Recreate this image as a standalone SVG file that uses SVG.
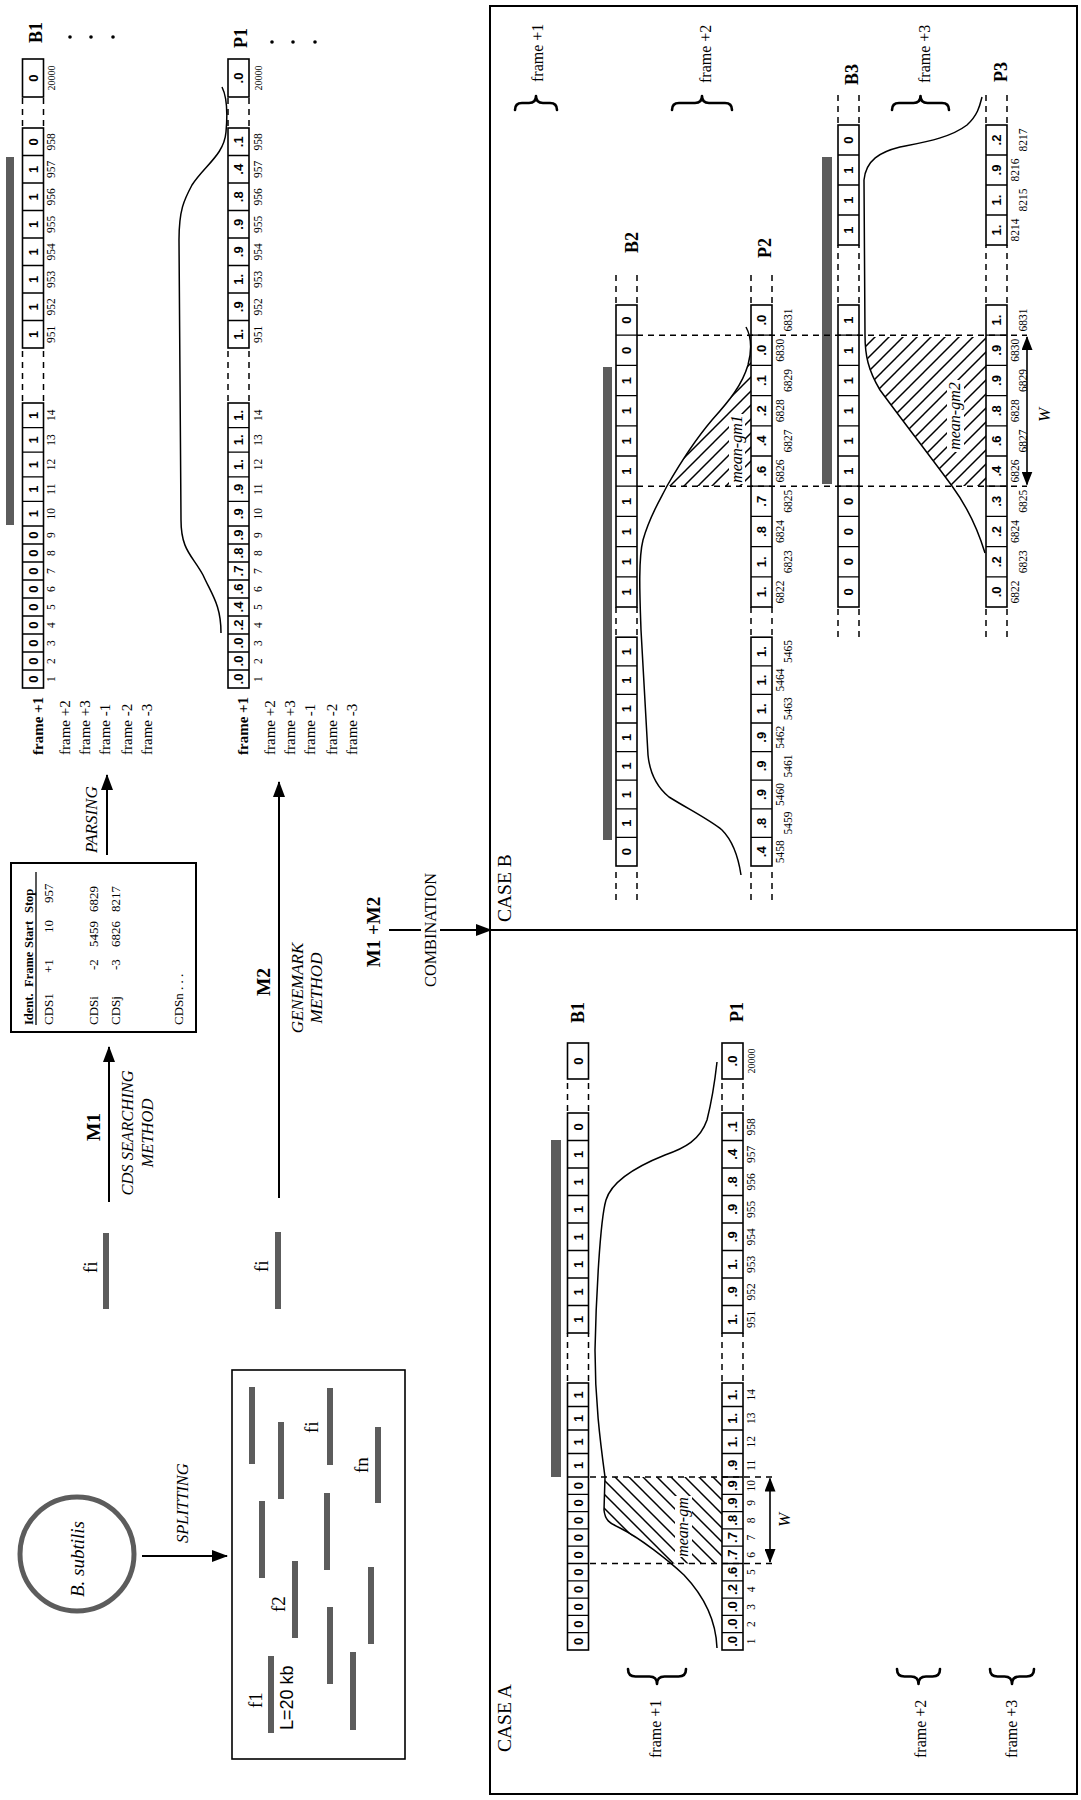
<svg xmlns="http://www.w3.org/2000/svg" width="1081" height="1800" viewBox="0 0 1081 1800">
<style>
text{font-family:"Liberation Serif","Times New Roman",serif;fill:#000}
.v{font-family:"Liberation Sans",Arial,sans-serif;font-weight:bold;font-size:13px;text-anchor:middle}
.sans{font-family:"Liberation Sans",Arial,sans-serif}
.n{font-size:11.5px;text-anchor:middle}
.m{text-anchor:middle}
.c{fill:none;stroke:#000;stroke-width:1.6}
.s{fill:none;stroke:#000;stroke-width:1.3}
.d{fill:none;stroke:#000;stroke-width:1.5;stroke-dasharray:6 5}
.bar{fill:#5c5c5c}
.cur{fill:none;stroke:#000;stroke-width:1.5;stroke-linejoin:round}
.lb{font-weight:bold;font-size:18px}
.it{font-style:italic}
.fr{font-size:16px}
.ar{fill:none;stroke:#000;stroke-width:2}
.ws{fill:none;stroke:#000;stroke-width:1.6}
.br{fill:none;stroke:#000;stroke-width:2.6;stroke-linecap:round;stroke-linejoin:round}
.wb{fill:#fff}
.tb{font-size:13px}
.th{font-size:12.5px;font-weight:bold}
</style>
<defs>
<marker id="ah" viewBox="0 0 16 12" refX="15" refY="6" markerWidth="16" markerHeight="12" markerUnits="userSpaceOnUse" orient="auto-start-reverse"><path d="M0,0L16,6L0,12z"/></marker>
<marker id="ahs" viewBox="0 0 14 11" refX="13" refY="5.5" markerWidth="14" markerHeight="11" markerUnits="userSpaceOnUse" orient="auto-start-reverse"><path d="M0,0L14,5.5L0,11z"/></marker>
<pattern id="hA" width="14" height="14" patternUnits="userSpaceOnUse"><path d="M-1,15L15,-1M-4,4L4,-4M10,18L18,10" stroke="#000" stroke-width="1.5"/></pattern>
<pattern id="hB" width="14" height="14" patternUnits="userSpaceOnUse"><path d="M-1,-1L15,15M10,-4L18,4M-4,10L4,18" stroke="#000" stroke-width="1.5"/></pattern>
<g id="rowTop">
<rect class="c" x="1112" y="0" width="285" height="21"/><rect class="c" x="1452" y="0" width="220" height="21"/><rect class="c" x="1703" y="0" width="38" height="21"/>
<path class="s" d="M1130,0v21M1148,0v21M1166,0v21M1184,0v21M1202,0v21M1220,0v21M1238,0v21M1256,0v21M1274,0v21M1298.6,0v21M1323.2,0v21M1347.8,0v21M1372.4,0v21M1479.5,0v21M1507,0v21M1534.5,0v21M1562,0v21M1589.5,0v21M1617,0v21M1644.5,0v21"/>
<path class="d" d="M1399,0H1452M1399,21H1452M1674,0H1703M1674,21H1703"/>
</g>
<g id="rowA">
<rect class="c" x="150" y="0" width="267" height="21"/><rect class="c" x="467" y="0" width="220" height="21"/><rect class="c" x="721" y="0" width="36" height="21"/>
<path class="s" d="M167.3,0v21M184.6,0v21M201.9,0v21M219.2,0v21M236.5,0v21M253.8,0v21M271.1,0v21M288.4,0v21M305.7,0v21M323,0v21M346.5,0v21M370,0v21M393.5,0v21M494.5,0v21M522,0v21M549.5,0v21M577,0v21M604.5,0v21M632,0v21M659.5,0v21"/>
<path class="d" d="M419,0H467M419,21H467M689,0H721M689,21H721"/>
</g>
<g id="rowB2">
<rect class="c" x="934" y="0" width="228.8" height="21"/><rect class="c" x="1193" y="0" width="302" height="21"/>
<path class="s" d="M962.6,0v21M991.2,0v21M1019.8,0v21M1048.4,0v21M1077,0v21M1105.6,0v21M1134.2,0v21M1223.2,0v21M1253.4,0v21M1283.6,0v21M1313.8,0v21M1344,0v21M1374.2,0v21M1404.4,0v21M1434.6,0v21M1464.8,0v21"/>
<path class="d" d="M900,0H932M900,21H932M1165,0H1193M1165,21H1193M1497,0H1525M1497,21H1525"/>
</g>
<g id="rowB3">
<rect class="c" x="1193" y="0" width="302" height="21"/><rect class="c" x="1555" y="0" width="120" height="21"/>
<path class="s" d="M1223.2,0v21M1253.4,0v21M1283.6,0v21M1313.8,0v21M1344,0v21M1374.2,0v21M1404.4,0v21M1434.6,0v21M1464.8,0v21M1585,0v21M1615,0v21M1645,0v21"/>
<path class="d" d="M1163,0H1191M1163,21H1191M1497,0H1555M1497,21H1555M1677,0H1705M1677,21H1705"/>
</g>
<text id="labTop" class="n"><tspan x="1121">1</tspan><tspan x="1139">2</tspan><tspan x="1157">3</tspan><tspan x="1175">4</tspan><tspan x="1193">5</tspan><tspan x="1211">6</tspan><tspan x="1229">7</tspan><tspan x="1247">8</tspan><tspan x="1265">9</tspan><tspan x="1286.3">10</tspan><tspan x="1310.9">11</tspan><tspan x="1335.5">12</tspan><tspan x="1360.1">13</tspan><tspan x="1384.7">14</tspan><tspan x="1465.75">951</tspan><tspan x="1493.25">952</tspan><tspan x="1520.75">953</tspan><tspan x="1548.25">954</tspan><tspan x="1575.75">955</tspan><tspan x="1603.25">956</tspan><tspan x="1630.75">957</tspan><tspan x="1658.25">958</tspan><tspan x="1722" font-size="10">20000</tspan></text>
</defs>
<rect width="1081" height="1800" fill="#fff"/>
<g transform="matrix(0,-1,1,0,0,1800)">

<g id="bsubtilis">
<circle cx="246" cy="77" r="57" fill="none" stroke="#5c5c5c" stroke-width="5"/>
<text class="it m" x="241" y="84" font-size="19">B. subtilis</text>
</g>

<g id="fragments">
<rect x="41" y="232" width="389" height="173" fill="none" stroke="#000" stroke-width="1.6"/>
<rect class="bar" x="336" y="249" width="77" height="6"/>
<rect class="bar" x="301" y="278" width="77" height="6"/>
<rect class="bar" x="335" y="327" width="77" height="6"/>
<rect class="bar" x="297" y="375" width="76" height="6"/>
<rect class="bar" x="222" y="259" width="77" height="6"/>
<rect class="bar" x="230" y="324" width="77" height="6"/>
<rect class="bar" x="162" y="292" width="77" height="6"/>
<rect class="bar" x="156" y="368" width="77" height="6"/>
<rect class="bar" x="116" y="327" width="77" height="6"/>
<rect class="bar" x="67" y="268" width="77" height="6"/>
<rect class="bar" x="70" y="350" width="78" height="6"/>
<text x="367" y="318" font-size="19">fi</text>
<text x="327" y="368" font-size="19">fn</text>
<text x="188" y="285" font-size="19">f2</text>
<text x="92" y="262" font-size="19">f1</text>
<text class="sans" x="70" y="293" font-size="18">L=20 kb</text>
</g>

<g id="fi-m1">
<rect class="bar" x="491" y="103" width="76" height="6"/>
<text x="527" y="97" font-size="19">fi</text>
</g>
<g id="fi-m2">
<rect class="bar" x="491" y="275" width="77" height="6"/>
<text x="528" y="268" font-size="19">fi</text>
</g>

<g id="cds-table">
<rect x="768" y="11" width="169" height="185" fill="none" stroke="#000" stroke-width="2"/>
<g class="th"><text x="775" y="33">Ident.</text><text x="813" y="33">Frame</text><text x="852" y="33">Start</text><text x="887" y="33">Stop</text></g>
<path d="M775,36H928" stroke="#000" stroke-width="1.3"/>
<g class="tb">
<text x="775" y="53">CDS1</text><text x="827" y="53">+1</text><text x="867" y="53">10</text><text x="897" y="53">957</text>
<text x="775" y="98">CDSi</text><text x="830" y="98">-2</text><text x="853" y="98">5459</text><text x="888" y="98">6829</text>
<text x="775" y="120">CDSj</text><text x="830" y="120">-3</text><text x="853" y="120">6826</text><text x="888" y="120">8217</text>
<text x="775" y="183">CDSn . . .</text>
</g>
</g>

<g id="connectors">
<path class="ar" d="M244,142V227" marker-end="url(#ah)"/>
<text class="it" x="257" y="188" font-size="16.5">SPLITTING</text>
<path class="ar" d="M598,109H753" marker-end="url(#ah)"/>
<text class="m" x="673" y="100" font-size="19.5" font-weight="bold">M1</text>
<text class="it m" x="667" y="133" font-size="16.5">CDS SEARCHING</text>
<text class="it m" x="667" y="153" font-size="16.5">METHOD</text>
<path class="ar" d="M602,279H1018" marker-end="url(#ah)"/>
<text class="m" x="818" y="270" font-size="19.5" font-weight="bold">M2</text>
<text class="it m" x="812" y="303" font-size="17">GENEMARK</text>
<text class="it m" x="812" y="322" font-size="17">METHOD</text>
<path class="ar" d="M945,107H1025" marker-end="url(#ah)"/>
<text class="it" x="947" y="97" font-size="17">PARSING</text>
<path class="ar" d="M870,389V421M870,440V491" marker-end="url(#ah)"/>
<text class="m" x="868" y="380" font-size="19" font-weight="bold">M1 +M2</text>
<text class="m" x="870" y="436" font-size="16.3">COMBINATION</text>
</g>

<g id="top-rows">
<path class="cur" d="M1167,221C1195,221 1205,212 1225,203C1245,192 1250,181 1280,181L1560,179C1590,179 1600,184 1615,192C1635,205 1645,224 1668,226C1690,228 1705,226 1713,222"/>
<rect class="bar" x="1275" y="6" width="368" height="8"/>
<use href="#rowTop" y="22.5"/>
<use href="#rowTop" y="228"/>
<text class="v" y="37.5" x="1121 1139 1157 1175 1193 1211 1229 1247 1265 1286.3 1310.9 1335.5 1360.1 1384.7 1465.75 1493.25 1520.75 1548.25 1575.75 1603.25 1630.75 1658.25 1722">00000000011111111111100</text>
<text class="v" y="243"><tspan x="1121">.0</tspan><tspan x="1139">.0</tspan><tspan x="1157">.0</tspan><tspan x="1175">.2</tspan><tspan x="1193">.4</tspan><tspan x="1211">.6</tspan><tspan x="1229">.7</tspan><tspan x="1247">.8</tspan><tspan x="1265">.9</tspan><tspan x="1286.3">.9</tspan><tspan x="1310.9">.9</tspan><tspan x="1335.5">1.</tspan><tspan x="1360.1">1.</tspan><tspan x="1384.7">1.</tspan><tspan x="1465.75">1.</tspan><tspan x="1493.25">.9</tspan><tspan x="1520.75">1.</tspan><tspan x="1548.25">.9</tspan><tspan x="1575.75">.9</tspan><tspan x="1603.25">.8</tspan><tspan x="1630.75">.4</tspan><tspan x="1658.25">.1</tspan><tspan x="1722">.0</tspan></text>
<use href="#labTop" y="55"/>
<use href="#labTop" y="262"/>
<text class="lb" x="1757" y="42">B1</text>
<text class="lb" x="1752" y="247">P1</text>
<circle cx="1763" cy="70" r="1.8"/><circle cx="1763" cy="91" r="1.8"/><circle cx="1763" cy="113" r="1.8"/>
<circle cx="1758" cy="272" r="1.8"/><circle cx="1758" cy="293" r="1.8"/><circle cx="1758" cy="315" r="1.8"/>
<g font-size="15">
<text x="1045" y="43" font-weight="bold">frame +1</text><text x="1045" y="70">frame +2</text><text x="1045" y="90">frame +3</text><text x="1045" y="110">frame -1</text><text x="1045" y="132">frame -2</text><text x="1045" y="152">frame -3</text>
<text x="1045" y="248" font-weight="bold">frame +1</text><text x="1045" y="275">frame +2</text><text x="1045" y="295">frame +3</text><text x="1045" y="315">frame -1</text><text x="1045" y="337">frame -2</text><text x="1045" y="357">frame -3</text>
</g>
</g>

<g id="frame-box">
<rect x="6" y="490" width="1788" height="587" fill="none" stroke="#000" stroke-width="2"/>
<path d="M870,490V1077" stroke="#000" stroke-width="2"/>
</g>

<g id="case-a">
<text x="48" y="511" font-size="19.5">CASE A</text>
<polygon points="236.5,669 250,652 263,634 272,620 277,610 283,605 290,604 323,605 323,722 236.5,722" fill="url(#hA)"/>
<rect class="wb" x="243" y="675" width="61" height="17"/>
<text class="it m" x="273" y="688" font-size="16">mean-gm</text>
<path class="cur" d="M152,717C180,716 205,703 225,684C240,668 262,640 272,620C277,609 280,605 290,604L323,605C360,600 400,595 450,595C500,596 580,600 600,606C620,612 635,640 645,665C652,685 660,700 680,707C700,712 720,715 738,717"/>
<rect class="bar" x="323" y="551" width="337" height="10"/>
<use href="#rowA" y="567.5"/>
<use href="#rowA" y="722"/>
<text class="v" y="582.5" x="158.65 175.95 193.25 210.55 227.85 245.15 262.45 279.75 297.05 314.35 334.75 358.25 381.75 405.25 480.75 508.25 535.75 563.25 590.75 618.25 645.75 673.25 739">00000000001111111111100</text>
<text class="v" y="737"><tspan x="158.65">.0</tspan><tspan x="175.95">.0</tspan><tspan x="193.25">.0</tspan><tspan x="210.55">.2</tspan><tspan x="227.85">.6</tspan><tspan x="245.15">.7</tspan><tspan x="262.45">.7</tspan><tspan x="279.75">.8</tspan><tspan x="297.05">.9</tspan><tspan x="314.35">.9</tspan><tspan x="334.75">.9</tspan><tspan x="358.25">1.</tspan><tspan x="381.75">1.</tspan><tspan x="405.25">1.</tspan><tspan x="480.75">1.</tspan><tspan x="508.25">.9</tspan><tspan x="535.75">1.</tspan><tspan x="563.25">.9</tspan><tspan x="590.75">.9</tspan><tspan x="618.25">.8</tspan><tspan x="645.75">.4</tspan><tspan x="673.25">.1</tspan><tspan x="739">.0</tspan></text>
<text class="n" y="755"><tspan x="158.65">1</tspan><tspan x="175.95">2</tspan><tspan x="193.25">3</tspan><tspan x="210.55">4</tspan><tspan x="227.85">5</tspan><tspan x="245.15">6</tspan><tspan x="262.45">7</tspan><tspan x="279.75">8</tspan><tspan x="297.05">9</tspan><tspan x="314.35">10</tspan><tspan x="334.75">11</tspan><tspan x="358.25">12</tspan><tspan x="381.75">13</tspan><tspan x="405.25">14</tspan><tspan x="480.75">951</tspan><tspan x="508.25">952</tspan><tspan x="535.75">953</tspan><tspan x="563.25">954</tspan><tspan x="590.75">955</tspan><tspan x="618.25">956</tspan><tspan x="645.75">957</tspan><tspan x="673.25">958</tspan><tspan x="739" font-size="10">20000</tspan></text>
<text class="lb" x="777" y="584">B1</text>
<text class="lb" x="778" y="743">P1</text>
<path class="d" d="M236.5,590V772M323,590V772"/>
<path class="ws" d="M238,770H321.5" marker-start="url(#ahs)" marker-end="url(#ahs)"/>
<text class="it m" x="280" y="790" font-size="17">W</text>
<path class="br" d="M131,628Q123.5,628 123.5,635.5L123.5,649.5Q123.5,657 116,657Q123.5,657 123.5,664.5L123.5,678.5Q123.5,686 131,686"/>
<path class="br" d="M131,897Q123.5,897 123.5,904.5L123.5,911Q123.5,918.5 116,918.5Q123.5,918.5 123.5,926L123.5,932.5Q123.5,940 131,940"/>
<path class="br" d="M131,990Q123.5,990 123.5,997.5L123.5,1004.5Q123.5,1012 116,1012Q123.5,1012 123.5,1019.5L123.5,1026.5Q123.5,1034 131,1034"/>
<text class="fr" x="42" y="661">frame +1</text>
<text class="fr" x="42" y="926">frame +2</text>
<text class="fr" x="42" y="1017">frame +3</text>
</g>

<g id="case-b">
<text x="878" y="511" font-size="19.5">CASE B</text>
<polygon points="1314,667 1337,681 1358,694 1380,712 1397,727 1417,742 1435,748 1450,751 1314,751" fill="url(#hB)"/>
<polygon points="1314,952 1340,933 1360,918 1387,897 1410,880 1432,869 1450,866 1463,865 1463,986 1314,986" fill="url(#hB)"/>
<rect class="wb" x="1316" y="729" width="70" height="16"/>
<text class="it m" x="1351" y="742" font-size="16">mean-gm1</text>
<rect class="wb" x="1348" y="947" width="72" height="17"/>
<text class="it m" x="1384" y="960" font-size="16">mean-gm2</text>
<path class="cur" d="M925,741C945,738 960,732 970,722C980,710 990,690 1003,669C1012,658 1025,650 1045,648L1170,641C1200,640 1240,638 1260,643C1285,650 1300,660 1314,667C1340,682 1360,695 1380,712C1400,730 1415,742 1435,748C1450,752 1462,752 1473,746"/>
<path class="cur" d="M1247,985C1270,978 1295,966 1314,952C1340,933 1380,902 1410,880C1430,868 1445,865 1465,865L1620,864C1640,866 1648,880 1653,900C1658,925 1662,950 1675,967C1685,978 1695,980 1703,982"/>
<rect class="bar" x="960" y="603" width="473" height="9"/>
<rect class="bar" x="1316" y="822" width="327" height="10"/>
<use href="#rowB2" y="616"/>
<use href="#rowB2" y="751"/>
<use href="#rowB3" y="838"/>
<use href="#rowB3" y="986"/>
<text class="v" y="631" x="948.3 976.9 1005.5 1034.1 1062.7 1091.3 1119.9 1148.5 1208.1 1238.3 1268.5 1298.7 1328.9 1359.1 1389.3 1419.5 1449.7 1479.9">011111111111111100</text>
<text class="v" y="766"><tspan x="948.3">.4</tspan><tspan x="976.9">.8</tspan><tspan x="1005.5">.9</tspan><tspan x="1034.1">.9</tspan><tspan x="1062.7">.9</tspan><tspan x="1091.3">1.</tspan><tspan x="1119.9">1.</tspan><tspan x="1148.5">1.</tspan><tspan x="1208.1">1.</tspan><tspan x="1238.3">1.</tspan><tspan x="1268.5">.8</tspan><tspan x="1298.7">.7</tspan><tspan x="1328.9">.6</tspan><tspan x="1359.1">.4</tspan><tspan x="1389.3">.2</tspan><tspan x="1419.5">.1</tspan><tspan x="1449.7">.0</tspan><tspan x="1479.9">.0</tspan></text>
<text class="n" y="784"><tspan x="948.3">5458</tspan><tspan x="1005.5">5460</tspan><tspan x="1062.7">5462</tspan><tspan x="1119.9">5464</tspan><tspan x="1208.1">6822</tspan><tspan x="1268.5">6824</tspan><tspan x="1328.9">6826</tspan><tspan x="1389.3">6828</tspan><tspan x="1449.7">6830</tspan></text>
<text class="n" y="792"><tspan x="976.9">5459</tspan><tspan x="1034.1">5461</tspan><tspan x="1091.3">5463</tspan><tspan x="1148.5">5465</tspan><tspan x="1238.3">6823</tspan><tspan x="1298.7">6825</tspan><tspan x="1359.1">6827</tspan><tspan x="1419.5">6829</tspan><tspan x="1479.9">6831</tspan></text>
<text class="v" y="853" x="1208.1 1238.3 1268.5 1298.7 1328.9 1359.1 1389.3 1419.5 1449.7 1479.9 1570 1600 1630 1660">00001111111110</text>
<text class="v" y="1001"><tspan x="1208.1">.0</tspan><tspan x="1238.3">.2</tspan><tspan x="1268.5">.2</tspan><tspan x="1298.7">.3</tspan><tspan x="1328.9">.4</tspan><tspan x="1359.1">.6</tspan><tspan x="1389.3">.8</tspan><tspan x="1419.5">.9</tspan><tspan x="1449.7">.9</tspan><tspan x="1479.9">1.</tspan><tspan x="1570">1.</tspan><tspan x="1600">1.</tspan><tspan x="1630">.9</tspan><tspan x="1660">.2</tspan></text>
<text class="n" y="1019"><tspan x="1208.1">6822</tspan><tspan x="1268.5">6824</tspan><tspan x="1328.9">6826</tspan><tspan x="1389.3">6828</tspan><tspan x="1449.7">6830</tspan><tspan x="1570">8214</tspan><tspan x="1630">8216</tspan></text>
<text class="n" y="1027"><tspan x="1238.3">6823</tspan><tspan x="1298.7">6825</tspan><tspan x="1359.1">6827</tspan><tspan x="1419.5">6829</tspan><tspan x="1479.9">6831</tspan><tspan x="1600">8215</tspan><tspan x="1660">8217</tspan></text>
<text class="lb" x="1547" y="638">B2</text>
<text class="lb" x="1542" y="771">P2</text>
<text class="lb" x="1715" y="858">B3</text>
<text class="lb" x="1718" y="1007">P3</text>
<path class="d" d="M1313.8,637V1027M1464.8,637V1027"/>
<path class="ws" d="M1315.5,1027H1463" marker-start="url(#ahs)" marker-end="url(#ahs)"/>
<text class="it m" x="1385" y="1050" font-size="17">W</text>
<path class="br" d="M1690,515Q1697,515 1697,522L1697,529Q1697,536 1704,536Q1697,536 1697,543L1697,550Q1697,557 1690,557"/>
<path class="br" d="M1690,672Q1697,672 1697,679L1697,695Q1697,702 1704,702Q1697,702 1697,709L1697,725Q1697,732 1690,732"/>
<path class="br" d="M1690,892Q1697,892 1697,899L1697,913.5Q1697,920.5 1704,920.5Q1697,920.5 1697,927.5L1697,942Q1697,949 1690,949"/>
<text class="fr" x="1718" y="543">frame +1</text>
<text class="fr" x="1717" y="711">frame +2</text>
<text class="fr" x="1717" y="930">frame +3</text>
</g>

</g>
</svg>
